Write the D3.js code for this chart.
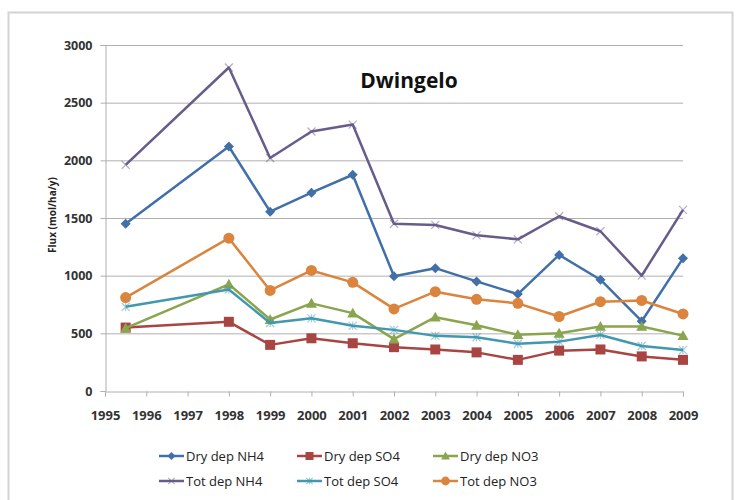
<!DOCTYPE html>
<html><head><meta charset="utf-8">
<script src="https://cdn.jsdelivr.net/npm/d3@7"></script>
<style>
html,body{margin:0;padding:0;background:#fff;}
text{font-family:"Open Sans","Liberation Sans",sans-serif;}
</style></head>
<body><svg id="chart" width="738" height="500"></svg>
<script>
const years = [1995.5, 1998, 1999, 2000, 2001, 2002, 2003, 2004, 2005, 2006, 2007, 2008, 2009];
const dryNH4 = [1450, 2120, 1555, 1720, 1875, 995, 1065, 950, 840, 1180, 965, 605, 1150];
const drySO4 = [550, 600, 400, 457, 414, 380, 360, 335, 270, 350, 360, 300, 270];
const dryNO3 = [545, 925, 620, 760, 675, 450, 640, 570, 488, 500, 560, 560, 480];
const totNH4 = [1960, 2805, 2020, 2250, 2310, 1450, 1440, 1350, 1315, 1515, 1385, 1000, 1570];
const totSO4 = [730, 880, 590, 630, 565, 530, 478, 466, 410, 428, 486, 390, 355];
const totNO3 = [810, 1325, 872, 1045, 942, 712, 861, 795, 760, 646, 774, 785, 668];
const seriesNames = ["Dry dep NH4", "Dry dep SO4", "Dry dep NO3", "Tot dep NH4", "Tot dep SO4", "Tot dep NO3"];
const xTicks = [1995,1996,1997,1998,1999,2000,2001,2002,2003,2004,2005,2006,2007,2008,2009];
const yTicks = [0, 500, 1000, 1500, 2000, 2500, 3000];
const titleText = "Dwingelo";
const yLabel = "Flux (mol/ha/y)";

const series = [
  {name: seriesNames[0], values: dryNH4, color: "#4170A8", marker: "diamond"},
  {name: seriesNames[1], values: drySO4, color: "#A84543", marker: "square"},
  {name: seriesNames[2], values: dryNO3, color: "#89A54E", marker: "triangle"},
  {name: seriesNames[3], values: totNH4, color: "#675C8A", marker: "x"},
  {name: seriesNames[4], values: totSO4, color: "#4198AF", marker: "star"},
  {name: seriesNames[5], values: totNO3, color: "#DB843D", marker: "circle"}
];

const svg = d3.select("#chart");
svg.append("rect").attr("x", 8.5).attr("y", 12.5).attr("width", 724).attr("height", 500)
  .attr("fill", "#fff").attr("stroke", "#d4d4d4").attr("stroke-width", 2);

const x = d3.scaleLinear().domain([1995, 2009]).range([105, 683]);
const y = d3.scaleLinear().domain([0, 3000]).range([391, 45]);

svg.append("g").selectAll("line").data(yTicks.filter(d => d > 0)).join("line")
  .attr("x1", 105).attr("x2", 683)
  .attr("y1", d => y(d) + 0.5).attr("y2", d => y(d) + 0.5)
  .attr("stroke", "#b0b0b0").attr("stroke-width", 1);

const yAxis = d3.axisLeft(y).tickValues(yTicks).tickSize(5).tickPadding(8).tickFormat(d3.format("d"));
const gy = svg.append("g").attr("transform", "translate(105.5,0)").call(yAxis);
gy.select(".domain").attr("stroke", "#b0b0b0");
gy.selectAll(".tick line").attr("stroke", "#b0b0b0");
gy.selectAll(".tick text").attr("font-size", "12.5px").attr("font-weight", "bold").attr("fill", "#333");

const xAxis = d3.axisBottom(x).tickValues(xTicks).tickSize(5).tickPadding(14).tickFormat(d3.format("d"));
const gx = svg.append("g").attr("transform", "translate(0,391.5)").call(xAxis);
gx.select(".domain").attr("stroke", "#b0b0b0");
gx.selectAll(".tick line").attr("stroke", "#b0b0b0");
gx.selectAll(".tick text").attr("font-size", "13px").attr("font-weight", "bold").attr("fill", "#333");

svg.append("text").attr("x", 409).attr("y", 88).attr("text-anchor", "middle")
  .attr("font-size", "21px").attr("font-weight", "bold").attr("fill", "#111").text(titleText);

svg.append("text").attr("transform", "translate(56,215) rotate(-90)").attr("text-anchor", "middle")
  .attr("font-size", "10px").attr("font-weight", "bold").attr("fill", "#222").text(yLabel);

function drawMarker(g, type, color, cx, cy, scale) {
  const s = scale || 1;
  if (type === "diamond") {
    const r = 5 * s;
    g.append("path").attr("d", `M${cx},${cy-r}L${cx+r},${cy}L${cx},${cy+r}L${cx-r},${cy}Z`).attr("fill", color);
  } else if (type === "square") {
    const r = 5 * s;
    g.append("rect").attr("x", cx-r).attr("y", cy-r).attr("width", 2*r).attr("height", 2*r).attr("fill", color);
  } else if (type === "triangle") {
    const r = 5.5 * s;
    g.append("path").attr("d", `M${cx},${cy-r}L${cx+r},${cy+r*0.8}L${cx-r},${cy+r*0.8}Z`).attr("fill", color);
  } else if (type === "circle") {
    g.append("circle").attr("cx", cx).attr("cy", cy).attr("r", 5.5 * s).attr("fill", color);
  } else if (type === "x") {
    const r = 4 * s;
    g.append("path").attr("d", `M${cx-r},${cy-r}L${cx+r},${cy+r}M${cx-r},${cy+r}L${cx+r},${cy-r}`)
      .attr("stroke", color).attr("stroke-width", 1.2).attr("opacity", 0.5);
  } else if (type === "star") {
    const r = 4 * s;
    g.append("path").attr("d", `M${cx-r},${cy-r}L${cx+r},${cy+r}M${cx-r},${cy+r}L${cx+r},${cy-r}M${cx},${cy-r}L${cx},${cy+r}`)
      .attr("stroke", color).attr("stroke-width", 1.2).attr("opacity", 0.5);
  }
}

const line = d3.line().x(d => x(d[0])).y(d => y(d[1]));
series.forEach(s => {
  const g = svg.append("g");
  const pts = years.map((yr, i) => [yr, s.values[i]]);
  g.append("path").attr("d", line(pts)).attr("fill", "none").attr("stroke", s.color)
    .attr("stroke-width", 2.5).attr("stroke-linejoin", "round");
  pts.forEach(p => drawMarker(g, s.marker, s.color, x(p[0]), y(p[1])));
});

const legCols = [159, 297, 433];
const legRows = [456, 481];
series.forEach((s, i) => {
  const lx = legCols[i % 3], ly = legRows[Math.floor(i / 3)];
  const g = svg.append("g");
  g.append("line").attr("x1", lx).attr("x2", lx + 25).attr("y1", ly).attr("y2", ly)
    .attr("stroke", s.color).attr("stroke-width", 2.5);
  drawMarker(g, s.marker, s.color, lx + 12.5, ly, 0.8);
  g.append("text").attr("x", lx + 27).attr("y", ly + 4.5).attr("font-size", "13px")
    .attr("fill", "#222").text(s.name);
});
</script></body></html>
